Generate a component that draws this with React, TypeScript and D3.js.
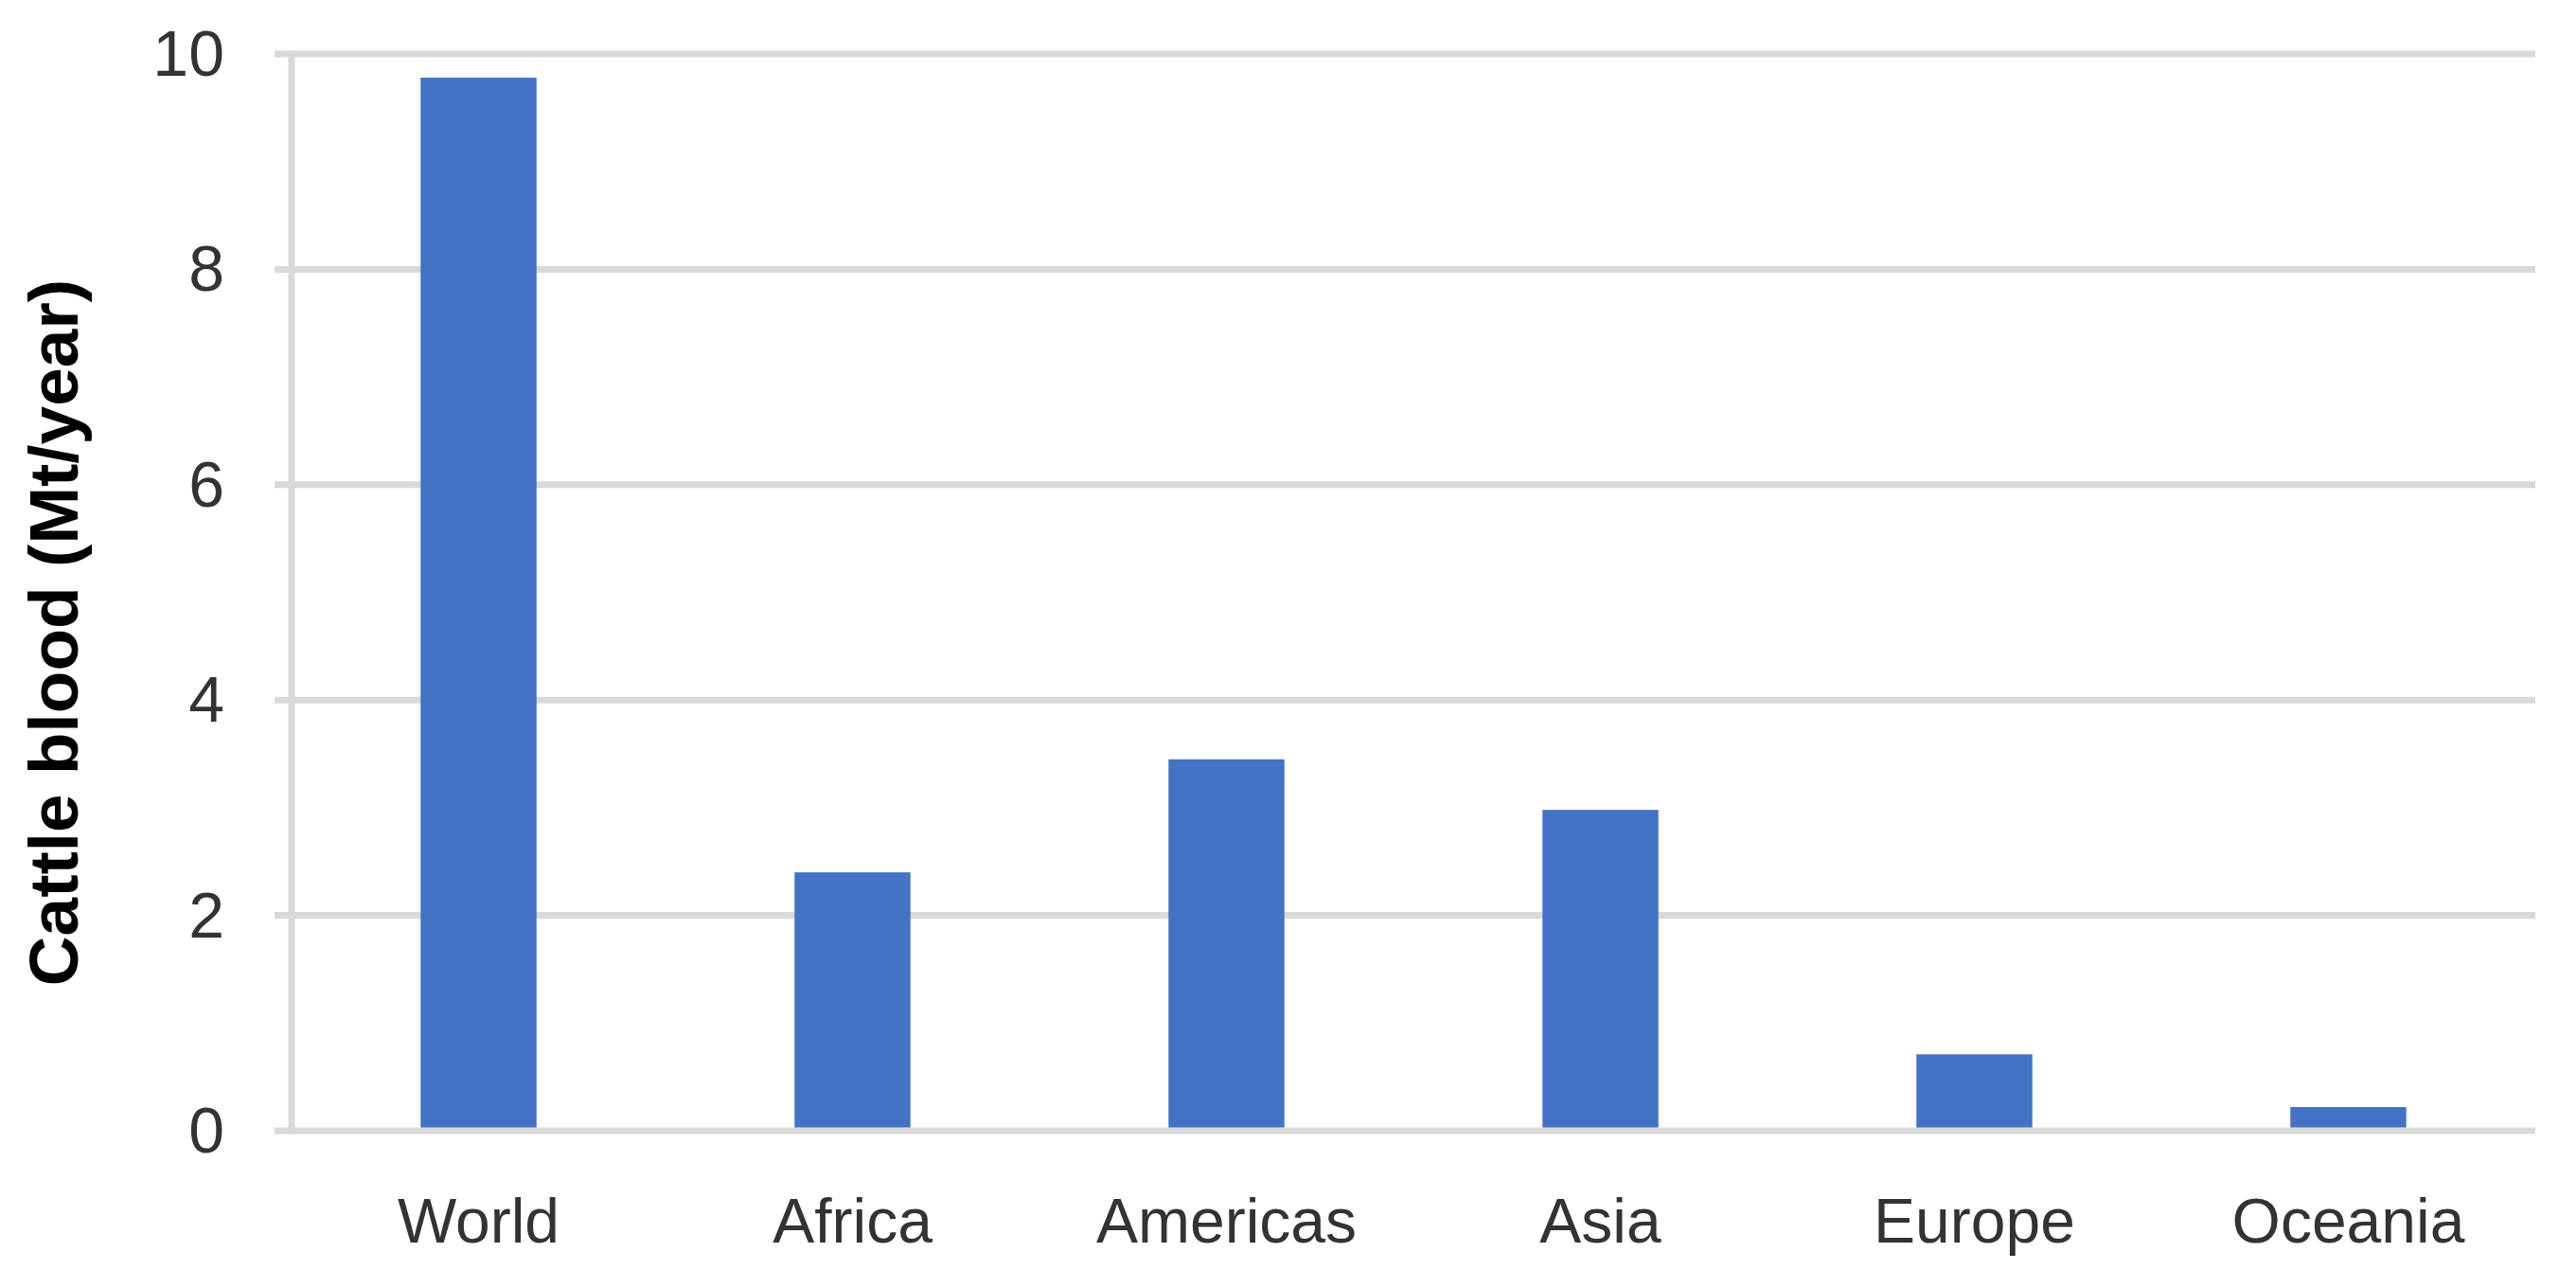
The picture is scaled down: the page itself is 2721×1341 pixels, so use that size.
import React, { useEffect, useRef } from 'react';
import * as d3 from 'd3';

// regions and cattle blood output (Mt/year)
const regions = ['World', 'Africa', 'Americas', 'Asia', 'Europe', 'Oceania'];
const bloodValues = [9.78, 2.4, 3.45, 2.98, 0.71, 0.22];
const yTicks = [0, 2, 4, 6, 8, 10];
const yTitle = 'Cattle blood (Mt/year)';

const W = 2721;
const H = 1341;

const drawChart = (el: SVGSVGElement) => {
  const svg = d3.select(el);
  svg.selectAll('*').remove();

  const margin = { top: 57, right: 43, bottom: 147, left: 308 };
  const font = '"Liberation Sans", Arial, sans-serif';

  const x = d3
    .scaleBand()
    .domain(regions)
    .range([margin.left, W - margin.right])
    .paddingInner(0.69)
    .paddingOuter(0.345);

  const y = d3
    .scaleLinear()
    .domain([0, 10])
    .range([H - margin.bottom, margin.top]);

  // gridlines (with the little tick stub left of the axis)
  svg
    .append('g')
    .selectAll('line')
    .data(yTicks)
    .enter()
    .append('line')
    .attr('x1', margin.left - 18)
    .attr('x2', W - margin.right)
    .attr('y1', d => y(d))
    .attr('y2', d => y(d))
    .attr('stroke', '#d9d9d9')
    .attr('stroke-width', 7);

  // y axis line
  svg
    .append('line')
    .attr('x1', margin.left)
    .attr('x2', margin.left)
    .attr('y1', y(10) - 3.5)
    .attr('y2', y(0) + 3.5)
    .attr('stroke', '#d9d9d9')
    .attr('stroke-width', 7);

  // bars
  svg
    .append('g')
    .selectAll('rect')
    .data(regions)
    .enter()
    .append('rect')
    .attr('x', d => x(d) as number)
    .attr('width', x.bandwidth())
    .attr('y', (d, i) => y(bloodValues[i]))
    .attr('height', (d, i) => y(0) - y(bloodValues[i]) - 3.5)
    .attr('fill', '#4472c4');

  // y tick labels
  svg
    .append('g')
    .selectAll('text')
    .data(yTicks)
    .enter()
    .append('text')
    .attr('x', 237)
    .attr('y', d => y(d) + 23)
    .attr('text-anchor', 'end')
    .style('font-family', font)
    .style('font-size', '68px')
    .attr('fill', '#333333')
    .text(d => d);

  // x labels
  svg
    .append('g')
    .selectAll('text')
    .data(regions)
    .enter()
    .append('text')
    .attr('x', d => (x(d) as number) + x.bandwidth() / 2)
    .attr('y', 1312)
    .attr('text-anchor', 'middle')
    .style('font-family', font)
    .style('font-size', '66px')
    .attr('fill', '#333333')
    .text(d => d);

  // y axis title
  svg
    .append('text')
    .attr('transform', 'translate(82, 668) rotate(-90)')
    .attr('text-anchor', 'middle')
    .style('font-family', font)
    .style('font-size', '73px')
    .style('font-weight', 'bold')
    .attr('fill', '#000000')
    .text(yTitle);
};

const App = () => {
  const ref = useRef<SVGSVGElement>(null);

  useEffect(() => {
    if (ref.current) drawChart(ref.current);
  }, []);

  return (
    <svg
      ref={ref}
      width={W}
      height={H}
      style={{ position: 'absolute', left: 0, top: 0, background: '#ffffff' }}
    />
  );
};

export default App;
